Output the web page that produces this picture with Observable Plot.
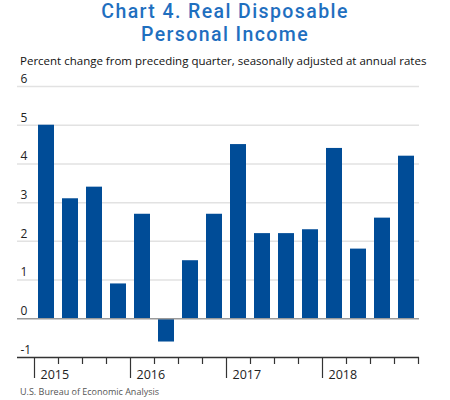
<!DOCTYPE html>
<html>
<head>
<meta charset="utf-8">
<script src="https://cdn.jsdelivr.net/npm/d3@7"></script>
<script src="https://cdn.jsdelivr.net/npm/@observablehq/plot@0.6"></script>
<style>
  html, body { margin: 0; padding: 0; background: #fff; }
  #wrap { position: relative; width: 450px; height: 400px; font-family: "Open Sans", sans-serif; }
  .title { position: absolute; left: 0; width: 450px; text-align: center; font-family: Roboto, sans-serif; font-weight: 500; font-size: 19.5px; line-height: 23px; letter-spacing: 1.4px; color: #1f6fbf; white-space: nowrap; }
  #title1 { top: 0.1px; }
  #title2 { top: 23.3px; }
  #subtitle { position: absolute; left: 20px; top: 55px; font-size: 11.5px; line-height: 11.5px; color: #111; white-space: nowrap; }
  #chart { position: absolute; left: 0; top: 68px; }
  #caption { position: absolute; left: 20px; top: 387px; font-size: 9px; line-height: 9px; color: #555; white-space: nowrap; }
</style>
</head>
<body>
<div id="wrap">
  <div class="title" id="title1">Chart 4. Real Disposable</div>
  <div class="title" id="title2">Personal Income</div>
  <div id="subtitle">Percent change from preceding quarter, seasonally adjusted at annual rates</div>
  <div id="chart"></div>
  <div id="caption">U.S. Bureau of Economic Analysis</div>
</div>
<script>
const quarters = ["2015Q1","2015Q2","2015Q3","2015Q4","2016Q1","2016Q2","2016Q3","2016Q4",
                  "2017Q1","2017Q2","2017Q3","2017Q4","2018Q1","2018Q2","2018Q3","2018Q4"];
const values = [5.0, 3.1, 3.4, 0.9, 2.7, -0.6, 1.5, 2.7, 4.5, 2.2, 2.2, 2.3, 4.4, 1.8, 2.6, 4.2];
const years = ["2015","2016","2017","2018"];
const yTicks = [-1, 0, 1, 2, 3, 4, 5, 6];

const data = quarters.map((q, i) => ({quarter: q, index: i, value: values[i]}));
const boundaries = d3.range(quarters.length + 1);
const yearStarts = years.map(y => quarters.findIndex(q => q.startsWith(y)));
const longTicks = boundaries.filter(b => yearStarts.includes(b));
const shortTicks = boundaries.filter(b => !yearStarts.includes(b));
const yearData = years.map((y, i) => ({year: y, start: yearStarts[i]}));

const chart = Plot.plot({
  width: 450,
  height: 316,
  marginLeft: 17,
  marginRight: 31,
  marginTop: 18,
  marginBottom: 27,
  style: {fontFamily: "'Open Sans', sans-serif", fontSize: "12px", color: "#222", background: "transparent"},
  x: {type: "linear", domain: [0, quarters.length], range: [34, 418], axis: null},
  y: {domain: [-1, 6], range: [289, 18], axis: null},
  marks: [
    Plot.ruleY(yTicks.filter(d => d > 0), {stroke: "#e2e2e2", strokeWidth: 1.5}),
    Plot.rectY(data, {x1: "index", x2: d => d.index + 1, y1: 0, y2: "value", fill: "#004c97", insetLeft: 4, insetRight: 4}),
    Plot.ruleY([0], {stroke: "#9a9a9a", strokeWidth: 1.5}),
    Plot.ruleY([-1], {stroke: "#333", strokeWidth: 1.5}),
    Plot.ruleX(longTicks, {x: d => d, y1: -1, y2: -1, insetBottom: -21, stroke: "#333", strokeWidth: 1.2}),
    Plot.ruleX(shortTicks, {x: d => d, y1: -1, y2: -1, insetBottom: -7, stroke: "#333", strokeWidth: 1.2}),
    Plot.text(yTicks, {y: d => d, text: d => String(d), frameAnchor: "left", dx: 3, dy: -7.5, textAnchor: "start", fill: "#222", fontSize: 12}),
    Plot.text(yearData, {x: "start", y: -1, text: "year", dx: 6, dy: 21, textAnchor: "start", lineAnchor: "bottom", fill: "#222", fontSize: 12.5})
  ]
});
document.getElementById("chart").appendChild(chart);
</script>
</body>
</html>
